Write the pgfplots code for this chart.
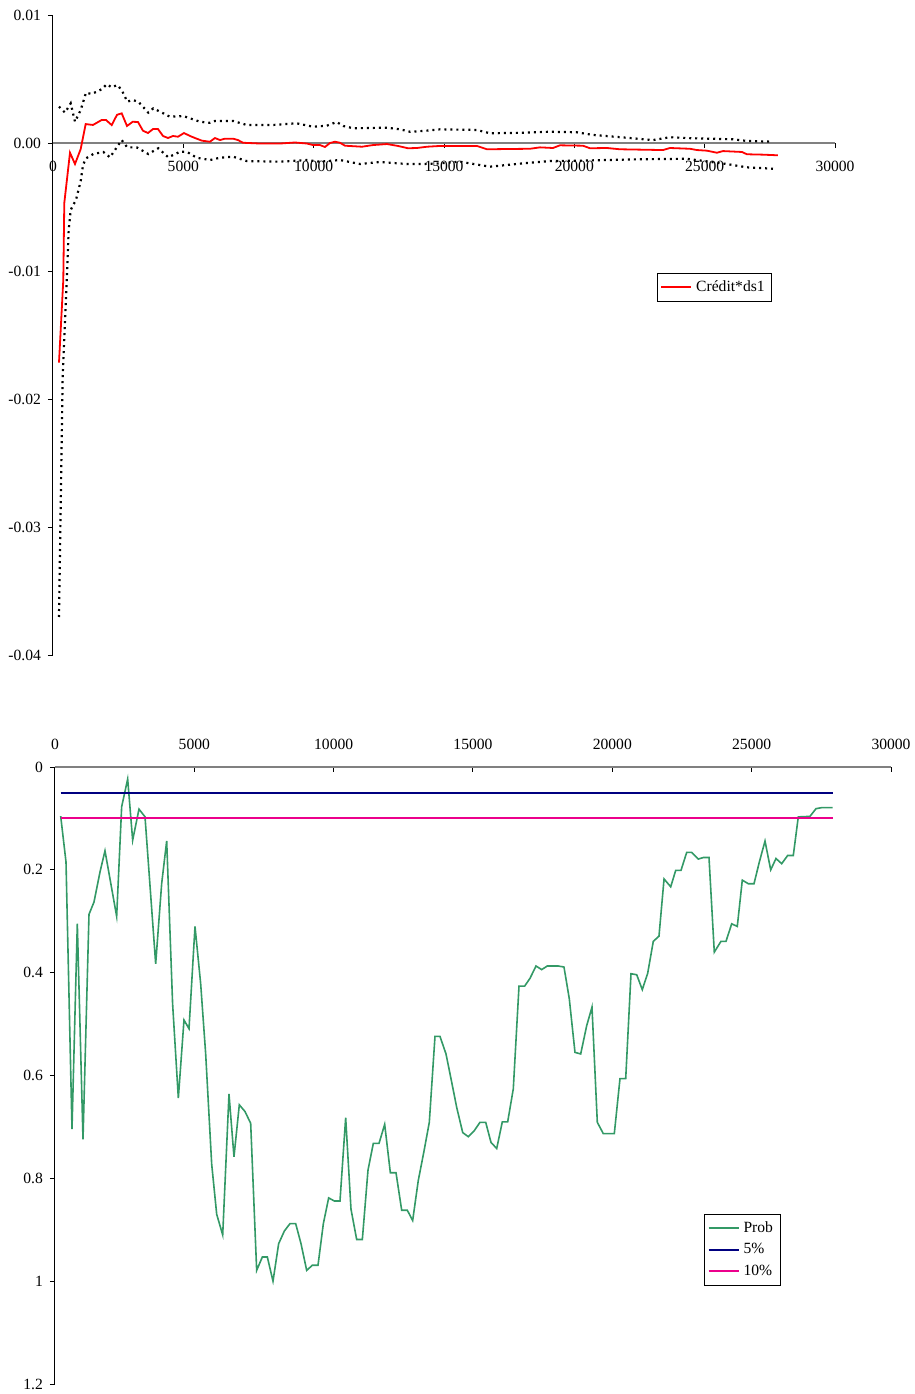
\documentclass[border=0pt]{standalone}
\usepackage{fontspec}
\setmainfont{Liberation Serif}
\usepackage{pgfplots}
\pgfplotsset{compat=1.18}
\definecolor{probgreen}{RGB}{51,153,102}
\definecolor{axgray}{RGB}{128,128,128}
\definecolor{navyblue}{RGB}{0,0,128}
\begin{document}
\begin{tikzpicture}
\path[use as bounding box] (0pt,0pt) rectangle (457.5pt,-697pt);
% ---------- top chart ----------
\begin{axis}[
  at={(26.5pt,-71.5pt)}, anchor=origin,
  scale only axis, width=391pt, height=320pt,
  xmin=0, xmax=30000, ymin=-0.04, ymax=0.01,
  axis x line=middle, axis y line=left,
  hide obscured x ticks=false, hide obscured y ticks=false,
  scaled x ticks=false, scaled y ticks=false,
  x axis line style={-, axgray, line width=1.2pt},
  y axis line style={-, black, line width=0.5pt},
  xtick={0,5000,10000,15000,20000,25000,30000},
  xticklabels={0,5000,10000,15000,20000,25000,30000},
  ytick={-0.04,-0.03,-0.02,-0.01,0,0.01},
  yticklabels={-0.04,-0.03,-0.02,-0.01,0.00,0.01},
  tick style={black, line width=0.5pt},
  major tick length=2.5pt,
  tick align=outside,
  tick label style={font=\fontsize{7.8}{9}\selectfont},
  xticklabel style={yshift=-3pt},
  legend style={at={(0.7724,0.5969)}, anchor=north west, draw=black,
    font=\fontsize{7.8}{9}\selectfont, inner sep=1.5pt, row sep=-1pt},
  legend image code/.code={\draw[#1, line width=0.9pt] (0pt,0pt) -- (15pt,0pt);},
  legend cell align=left,
]
\addplot[black, line width=1.1pt, dash pattern=on 1pt off 2pt, forget plot] coordinates {
(230,0.00284) (460,0.00237) (679,0.00310) (844,0.00166) (1063,0.00258) (1266,0.00393)
(1485,0.00383) (1868,0.00420) (2060,0.00459) (2252,0.00435) (2467,0.00453) (2635,0.00414)
(2850,0.00323) (3057,0.00336) (3272,0.00323) (3656,0.00237) (3848,0.00271) (4231,0.00232)
(4488,0.00205) (4998,0.00211) (5639,0.00166) (6023,0.00158) (6214,0.00172) (6916,0.00172)
(7430,0.00141) (8451,0.00141) (9348,0.00154) (9985,0.00127) (10499,0.00135) (10883,0.00164)
(11136,0.00133) (11520,0.00115) (12801,0.00120) (13311,0.00107) (13695,0.00088) (14205,0.00094)
(14845,0.00107) (16253,0.00102) (16763,0.00076) (18029,0.00080) (19065,0.00088) (20089,0.00084)
(20714,0.00063) (22007,0.00041) (23016,0.00023) (23668,0.00045) (24550,0.00037) (26085,0.00029)
(26622,0.00016) (27620,0.00010)
};
\addplot[black, line width=1.1pt, dash pattern=on 1pt off 2pt, forget plot] coordinates {
(230,-0.03703) (372,-0.01813) (472,-0.01328) (526,-0.01070) (602,-0.00680) (679,-0.00523)
(779,-0.00484) (882,-0.00445) (1063,-0.00297) (1151,-0.00172) (1266,-0.00120) (1546,-0.00086)
(1930,-0.00070) (2187,-0.00112) (2444,-0.00034) (2635,0.00023) (2850,-0.00034) (3211,-0.00034)
(3656,-0.00086) (4039,-0.00041) (4423,-0.00112) (4872,-0.00068) (5129,-0.00068) (5512,-0.00115)
(6023,-0.00133) (6406,-0.00115) (6916,-0.00107) (7430,-0.00141) (8708,-0.00146) (9732,-0.00133)
(10242,-0.00146) (11009,-0.00133) (11777,-0.00164) (12544,-0.00148) (13568,-0.00164) (14205,-0.00164)
(14845,-0.00159) (15613,-0.00146) (16763,-0.00185) (18029,-0.00159) (19065,-0.00141) (20216,-0.00138)
(21240,-0.00133) (22506,-0.00127) (24309,-0.00123) (25843,-0.00164) (26622,-0.00190) (27620,-0.00201)
};
\addplot[red, line width=0.9pt] coordinates {
(230,-0.01716) (395,-0.01070) (433,-0.00469) (652,-0.00076) (844,-0.00164) (1063,-0.00047)
(1254,0.00148) (1534,0.00141) (1868,0.00180) (2033,0.00180) (2252,0.00140) (2455,0.00220)
(2635,0.00232) (2839,0.00133) (3057,0.00166) (3261,0.00164) (3452,0.00096) (3644,0.00078)
(3836,0.00109) (4028,0.00109) (4220,0.00055) (4411,0.00039) (4603,0.00055) (4795,0.00049)
(5025,0.00078) (5256,0.00055) (5447,0.00039) (5716,0.00018) (6023,0.00010) (6214,0.00039)
(6406,0.00023) (6598,0.00034) (6905,0.00034) (7097,0.00023) (7288,0.00002) (7940,-0.00004)
(8708,-0.00004) (9283,0.00004) (9743,-0.00004) (9974,-0.00016) (10242,-0.00016) (10434,-0.00031)
(10626,0.00000) (10818,0.00010) (11009,0.00002) (11201,-0.00021) (11853,-0.00029) (12275,-0.00016)
(12812,-0.00008) (13234,-0.00023) (13618,-0.00041) (13963,-0.00039) (14347,-0.00029) (14845,-0.00023)
(16265,-0.00023) (16648,-0.00049) (17415,-0.00047) (18298,-0.00045) (18681,-0.00034) (19180,-0.00039)
(19449,-0.00018) (20331,-0.00021) (20600,-0.00041) (21252,-0.00039) (21750,-0.00049) (23400,-0.00055)
(23668,-0.00039) (24435,-0.00045) (24704,-0.00055) (25087,-0.00060) (25471,-0.00076) (25701,-0.00063)
(26430,-0.00070) (26622,-0.00088) (27236,-0.00091) (27811,-0.00096)
};
\addlegendentry{Crédit*ds1}
\end{axis}
% ---------- bottom chart ----------
\begin{axis}[
  at={(27.5pt,-383.5pt)}, anchor=origin,
  scale only axis, width=418pt, height=308.5pt,
  xmin=0, xmax=30000, ymin=0, ymax=1.2, y dir=reverse,
  axis x line=middle, axis y line=left,
  hide obscured x ticks=false, hide obscured y ticks=false,
  scaled x ticks=false, scaled y ticks=false,
  x axis line style={-, axgray, line width=1.2pt},
  y axis line style={-, black, line width=0.5pt},
  xtick={0,5000,10000,15000,20000,25000,30000},
  xticklabels={0,5000,10000,15000,20000,25000,30000},
  ytick={0,0.2,0.4,0.6,0.8,1,1.2},
  yticklabels={0,0.2,0.4,0.6,0.8,1,1.2},
  tick style={black, line width=0.5pt},
  major tick length=2.5pt,
  ytick align=outside,
  xtick align=inside,
  tick label style={font=\fontsize{7.8}{9}\selectfont},
  xticklabel style={anchor=south, yshift=5pt},
  legend style={at={(0.7767,0.2755)}, anchor=north west, draw=black,
    font=\fontsize{7.8}{9}\selectfont, inner sep=1.5pt, row sep=0pt},
  legend image code/.code={\draw[#1, line width=0.9pt] (0pt,0pt) -- (15pt,0pt);},
  legend cell align=left,
]
\addplot[probgreen, line width=0.8pt] coordinates {
(204,0.0955) (395,0.1846) (610,0.704) (801,0.3047) (1005,0.724) (1220,0.2865) (1400,0.2625)
(1615,0.204) (1794,0.163) (2213,0.2905) (2392,0.0773) (2608,0.0234) (2787,0.1423) (3014,0.0819)
(3230,0.0968) (3613,0.3827) (3828,0.2268) (4008,0.1436) (4220,0.46) (4426,0.644) (4629,0.492)
(4809,0.509) (5024,0.310) (5228,0.4217) (5407,0.558) (5623,0.7725) (5803,0.870) (6018,0.910)
(6244,0.636) (6423,0.758) (6614,0.657) (6818,0.670) (7022,0.693) (7237,0.979) (7440,0.953)
(7620,0.953) (7823,1.000) (8026,0.927) (8230,0.9025) (8433,0.888) (8637,0.888) (8828,0.927)
(9032,0.979) (9235,0.969) (9438,0.969) (9630,0.888) (9821,0.838) (10024,0.844) (10227,0.844)
(10431,0.682) (10622,0.860) (10826,0.919) (11029,0.919) (11232,0.784) (11423,0.732) (11627,0.732)
(11831,0.695) (12034,0.789) (12237,0.789) (12441,0.862) (12643,0.862) (12835,0.882) (13037,0.804)
(13242,0.747) (13432,0.691) (13636,0.524) (13816,0.524) (14031,0.558) (14236,0.613) (14415,0.662)
(14631,0.711) (14832,0.719) (15036,0.708) (15251,0.691) (15456,0.691) (15646,0.730) (15851,0.742)
(16052,0.690) (16245,0.690) (16446,0.626) (16651,0.426) (16855,0.426) (17045,0.411) (17261,0.387)
(17465,0.394) (17666,0.387) (18061,0.387) (18265,0.389) (18456,0.451) (18660,0.555) (18865,0.558)
(19080,0.503) (19270,0.467) (19461,0.691) (19676,0.713) (20071,0.713) (20275,0.606) (20480,0.606)
(20670,0.402) (20875,0.404) (21075,0.433) (21269,0.401) (21470,0.339) (21674,0.329) (21856,0.2177)
(22095,0.233) (22274,0.201) (22464,0.201) (22669,0.166) (22848,0.166) (23085,0.179) (23264,0.176)
(23469,0.176) (23659,0.360) (23899,0.339) (24079,0.339) (24283,0.305) (24484,0.310) (24664,0.220)
(24879,0.227) (25084,0.227) (25274,0.185) (25479,0.144) (25683,0.200) (25873,0.178) (26078,0.188)
(26293,0.172) (26494,0.172) (26673,0.097) (27093,0.096) (27308,0.081) (27513,0.079) (27908,0.079)
};
\addlegendentry{Prob}
\addplot[navyblue, line width=0.8pt] coordinates {(204,0.05) (27908,0.05)};
\addlegendentry{5\%}
\addplot[magenta, line width=1pt] coordinates {(204,0.1) (27908,0.1)};
\addlegendentry{10\%}
\end{axis}
\end{tikzpicture}
\end{document}
